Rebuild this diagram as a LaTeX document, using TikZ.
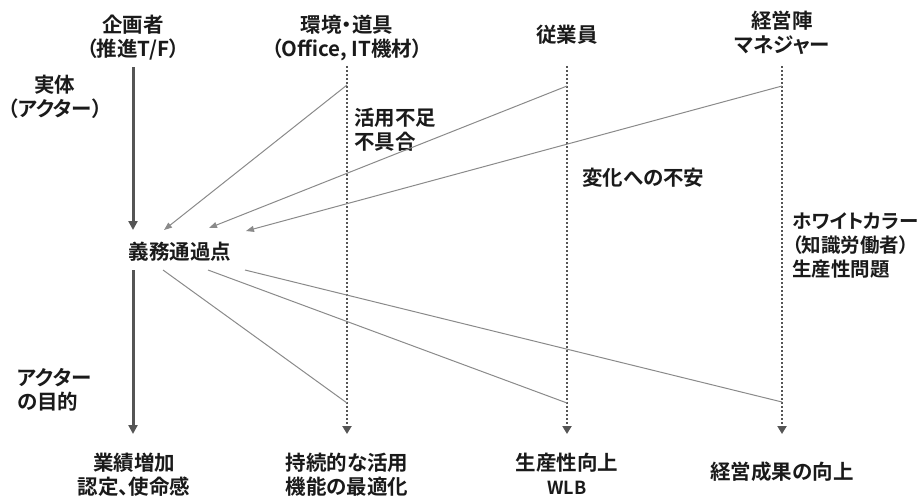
\documentclass[tikz,border=0pt]{standalone}
\usepackage{fontspec}
\setmainfont{Noto Sans CJK JP}[RawFeature=+palt,BoldFont={Noto Sans CJK JP Bold},BoldFeatures={RawFeature=+palt}]
\usetikzlibrary{arrows.meta}
\definecolor{txt}{HTML}{1A1A1A}
\definecolor{thick}{HTML}{555555}
\definecolor{thin}{HTML}{8A8A8A}
\begin{document}
\begin{tikzpicture}[x=1pt,y=-1pt,
  lbl/.style={inner sep=0pt,text=txt,font=\fontsize{20.5}{24}\selectfont\bfseries,align=center},
  lbll/.style={lbl,align=left,anchor=west},
  mainarrow/.style={draw=thick,line width=3pt,-{Triangle[length=9pt,width=9pt]}},
  dotarrow/.style={draw=thick,line width=2.6pt,dash pattern=on 2.4pt off 1.6pt,-{Triangle[length=8pt,width=9pt]}},
  inarrow/.style={draw=thin,line width=1pt,-{Triangle[length=8pt,width=6pt]}},
  outline/.style={draw=thin,line width=1pt}]
\useasboundingbox (0,0) rectangle (923,499);
% headers
\node[lbl] (h1) at (133,37.5) {企画者\\（推進T/F）};
\node[lbl] (h2) at (347,37.5) {環境・道具\\（Office, IT機材）};
\node[lbl] (h3) at (567,35) {従業員};
\node[lbl] (h4) at (782,33) {経営陣\\マネジャー};
% side labels
\node[lbl] (jittai) at (55,97) {実体\\（アクター）};
\node[lbll] (fusoku) at (354,130) {活用不足\\不具合};
\node[lbll] (fuan) at (582,178) {変化への不安};
\node[lbll,font=\fontsize{19.5}{24}\selectfont\bfseries] (white) at (792,246) {ホワイトカラー\\（知識労働者）\\生産性問題};
\node[lbl] (opp) at (180,252) {義務通過点};
\node[lbll] (mokuteki) at (17,390) {アクター\\の目的};
% bottom
\node[lbl] (b1) at (134,475) {業績増加\\認定、使命感};
\node[lbl] (b2) at (347,475) {持続的な活用\\機能の最適化};
\node[lbl] (b3) at (567,474) {生産性向上\\{\fontsize{18}{20}\selectfont WLB}};
\node[lbl] (b4) at (782,472) {経営成果の向上};
% coordinates
\coordinate (a1t) at (133,67);
\coordinate (a1m) at (133,230);
\coordinate (a1n) at (133,270);
\coordinate (a1b) at (133,434);
\coordinate (c2t) at (347,66);
\coordinate (c2b) at (347,434);
\coordinate (c3t) at (567,66);
\coordinate (c3b) at (567,434);
\coordinate (c4t) at (782,66);
\coordinate (c4b) at (782,434);
\coordinate (i2) at (347,85);
\coordinate (i3) at (567,86);
\coordinate (i4) at (782,86);
\coordinate (e2) at (164,230);
\coordinate (e3) at (209,228);
\coordinate (e4) at (246,231);
\coordinate (o2) at (163,270);
\coordinate (o3) at (208,270);
\coordinate (o4) at (245,270);
\coordinate (d2) at (347,403);
\coordinate (d3) at (567,403);
\coordinate (d4) at (782,402);
% main arrows
\draw[mainarrow] (a1t) -- (a1m);
\draw[mainarrow] (a1n) -- (a1b);
% dotted lifelines
\draw[dotarrow] (c2t) -- (c2b);
\draw[dotarrow] (c3t) -- (c3b);
\draw[dotarrow] (c4t) -- (c4b);
% incoming
\draw[inarrow] (i2) -- (e2);
\draw[inarrow] (i3) -- (e3);
\draw[inarrow] (i4) -- (e4);
% outgoing
\draw[outline] (o2) -- (d2);
\draw[outline] (o3) -- (d3);
\draw[outline] (o4) -- (d4);
\end{tikzpicture}
\end{document}
